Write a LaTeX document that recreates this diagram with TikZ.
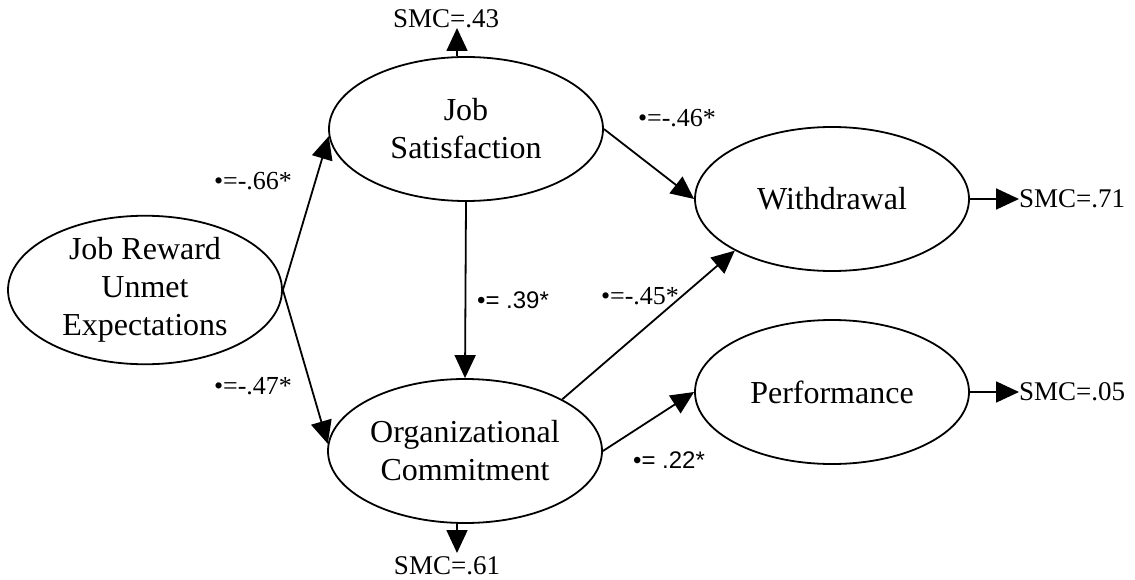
\documentclass[tikz,border=0pt]{standalone}
\usepackage{fontspec}
\setmainfont{Liberation Serif}
\newfontfamily\labelsans{Liberation Sans}
\usetikzlibrary{shapes.geometric,arrows.meta}
\begin{document}
\begin{tikzpicture}[x=1pt,y=-1pt,
  latent/.style={ellipse, draw, line width=1.8pt, minimum width=274pt, minimum height=144pt,
    inner sep=0pt, align=center, font=\fontsize{32}{38}\selectfont},
  path/.style={line width=1.8pt, -{Triangle[length=23pt,width=21pt]}},
  coef/.style={font=\fontsize{26}{30}\selectfont, inner sep=0pt},
  coefsans/.style={font=\labelsans\fontsize{24}{28}\selectfont, inner sep=0pt},
  smc/.style={font=\fontsize{27}{30}\selectfont, inner sep=0pt}]
\useasboundingbox (0,0) rectangle (1135,580);

% latent constructs
\node[latent] (jr) at (145,290) {Job Reward\\Unmet\\Expectations};
\node[latent] (js) at (466,129) {Job\\Satisfaction};
\node[latent] (oc) at (465,451) {Organizational\\Commitment};
\node[latent] (wd) at (832,199) {Withdrawal};
\node[latent] (pf) at (832,392) {Performance};

% squared multiple correlations
\node[smc] (smcjs) at (446,19) {SMC=.43};
\node[smc] (smcoc) at (447,566) {SMC=.61};
\node[smc, anchor=west] (smcwd) at (1019,199) {SMC=.71};
\node[smc, anchor=west] (smcpf) at (1019,392) {SMC=.05};
\coordinate (tjs) at (457,28);
\coordinate (toc) at (457,553);

% structural paths
\draw[path] (jr.east) -- (js.183);
\draw[path] (jr.east) -- (oc.177);
\draw[path] (js.south) -- (oc.north);
\draw[path] (js.east) -- (wd.west);
\draw[path] (oc.28) -- (wd.208);
\draw[path] (oc.east) -- (pf.west);

% residual arrows
\draw[path] (tjs |- js.north) -- (tjs);
\draw[path] (toc |- oc.south) -- (toc);
\draw[path] (wd.east) -- (wd.east -| smcwd.west);
\draw[path] (pf.east) -- (pf.east -| smcpf.west);

% path coefficients
\node[coef] (b1) at (253,181) {•=-.66*};
\node[coef] (b2) at (253,386) {•=-.47*};
\node[coefsans] (b3) at (513,300) {•= .39*};
\node[coef] (b4) at (677,118) {•=-.46*};
\node[coef] (b5) at (640,296) {•=-.45*};
\node[coefsans] (b6) at (669,460) {•= .22*};
\end{tikzpicture}
\end{document}
